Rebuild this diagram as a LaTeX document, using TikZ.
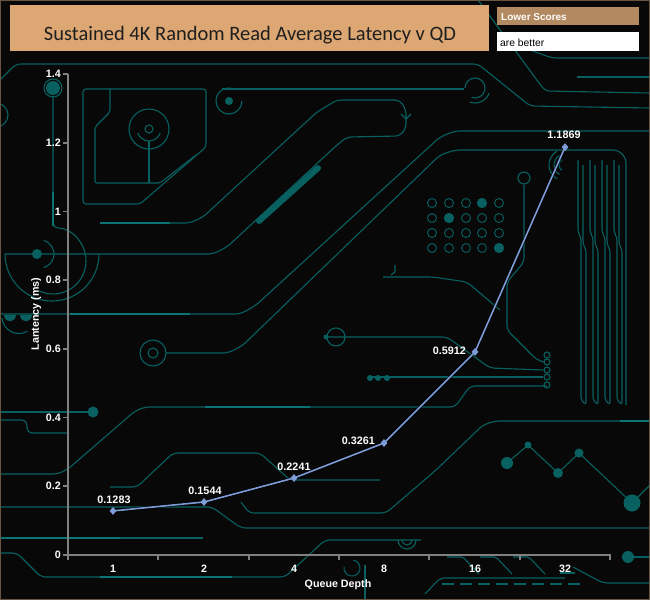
\documentclass[tikz,border=0pt]{standalone}
\usepackage{fontspec}
\setmainfont{Liberation Sans}
\newfontfamily\titlefont{Carlito}
\usetikzlibrary{shapes.geometric}
\definecolor{bgc}{RGB}{8,8,8}
\definecolor{trc}{RGB}{8,96,96}
\definecolor{trb}{RGB}{12,116,116}
\definecolor{titlec}{RGB}{220,167,114}
\definecolor{lowc}{RGB}{178,137,96}
\definecolor{axisc}{RGB}{128,128,128}
\definecolor{serc}{RGB}{125,155,215}
\definecolor{framec}{RGB}{105,85,65}
\begin{document}
\begin{tikzpicture}[x=1pt,y=-1pt,
  trace/.style={trc,line width=1.1pt,rounded corners=5pt},
  bright/.style={trb,line width=2.2pt},
  axisline/.style={axisc,line width=1.8pt},
  ticklab/.style={text=white,font=\bfseries\fontsize{10.7}{12}\selectfont,inner sep=0pt},
  datalab/.style={text=white,font=\bfseries\fontsize{10.8}{12}\selectfont,inner sep=0pt},
  datamark/.style={diamond,fill=serc,inner sep=0pt,minimum width=7pt,minimum height=8pt}]
\useasboundingbox (0,0) rectangle (650,600);
\fill[bgc] (0,0) rectangle (650,600);
% ---------- background circuit ----------
% top lines
\draw[trace] (0,80) -- (16,64) -- (478,64) -- (530,106) -- (650,108);
\draw[trace] (478,0) -- (545,91) -- (650,93);
\draw[trace] (530,50) -- (552,58) -- (650,58);
\draw[trace] (577,77) -- (650,77);
% box with target
\draw[trace,rounded corners=3pt] (83,89) -- (206,89) -- (206,147) -- (140,204) -- (83,204) -- cycle;
\draw[trace,rounded corners=2pt] (110,89) -- (110,112) -- (95,127) -- (95,183) -- (160,183) -- (196,155);
\draw[trace] (149,129) circle (20);
\draw[trace] (149,129) circle (4);
\draw[trace] (149,129) ++(20:12) arc[start angle=20,end angle=160,radius=12];
\draw[trace] (149,141) -- (149,183);
\fill[trc] (229,101) circle (4);
\draw[trace] (229,101) ++(0:13) arc[start angle=0,end angle=280,radius=13];
% line y=89 with spiral
\draw[trace] (222,89) -- (464,89);
\draw[trace] (475,88) ++(180:10) arc[start angle=180,end angle=470,radius=10];
\draw[trace] (475,88) ++(20:15) arc[start angle=20,end angle=110,radius=15];
% loop D1/D2
\draw[trace] (100,223) -- (190,223) -- (203,217) -- (317,112) -- (337,100) -- (400,100) -- (406,110) -- (406,128) -- (400,136) -- (347,137) -- (337,145) -- (227,247) -- (213,254) -- (5,254);
\draw[bright] (100,223) -- (170,223);
\draw[trace,rounded corners=0pt] (401,114) -- (406,119) -- (411,114);
% big semicircle and arcs at left
\draw[trace] (5,254) arc[start angle=180,end angle=0,radius=47];
\draw[trace] (53,96) -- (53,228) arc[start angle=-90,end angle=115,radius=33];
\draw[bright] (53,192) -- (53,226);
\fill[trc] (53,88) circle (7);
\draw[trace] (53,88) circle (9);
\fill[trc] (37,254) circle (5);
\draw[trace] (40,254) ++(-75:14) arc[start angle=-75,end angle=75,radius=14];
\draw[trace] (-4,115) circle (12);
% D3
\draw[trace] (0,314) -- (240,314) -- (255,306) -- (440,137) -- (455,131) -- (650,131);
\draw[bright] (70,314) -- (190,314);
\fill[trc] (4,315) arc[start angle=180,end angle=0,radius=6] -- cycle;
\fill[trc] (20,315) arc[start angle=180,end angle=0,radius=6] -- cycle;
\draw[trace] (2,318) arc[start angle=175,end angle=60,radius=17];
% D4
\draw[trace] (166,353) -- (228,353) -- (242,346) -- (440,155) -- (455,150) -- (618,150) -- (626,158) -- (626,405);
\draw[trace] (153,353) circle (13);
\draw[trace] (153,353) circle (5);
% thick bar
\draw[trc,line width=6pt,line cap=round] (259,221) -- (318,168);
% left lower lines
\draw[trace] (0,412) -- (88,412);
\fill[trc] (93,412) circle (5.5);
\draw[trace] (0,420) -- (27,420) -- (27,433) -- (67,433);
\draw[trace] (0,474) -- (58,474) -- (68,469) -- (135,411) -- (145,407) -- (455,407) -- (470,386) -- (547,386);
\draw[bright] (205,407) -- (310,407);
\draw[trace] (110,487) -- (137,487) -- (173,453) -- (260,453) -- (290,480) -- (380,480);
\draw[trace] (0,507) -- (212,507) -- (241,528) -- (650,528);
\draw[trace] (241,502) -- (249,513) -- (386,513) -- (436,470) -- (483,425) -- (495,421) -- (650,421);
\draw[bright] (620,421) -- (650,421);
\draw[trace] (0,538) -- (203,538);
\draw[trb,line width=2.6pt] (0,538) -- (120,538);
\draw[trace] (0,553) -- (17,553) -- (41,577) -- (285,577) -- (325,540) -- (421,540);
\draw[bright] (100,577) -- (232,577);
\draw[trace] (398,540) arc[start angle=180,end angle=0,radius=9];
\draw[trace] (402,540) arc[start angle=180,end angle=0,radius=5];
\draw[trace] (365,565) -- (365,600);
\draw[trace] (352,568) ++(-80:8) arc[start angle=-80,end angle=190,radius=8];
% lower right
\foreach \xx in {447,480,513}{\draw[trace,rounded corners=2pt] (\xx,557) -- (\xx+16,557) -- (\xx+32,574);}
\draw[trace,dash pattern=on 12pt off 6pt] (442,584) -- (581,584);
\draw[trace] (425,594) -- (440,578) -- (565,578);
\draw[trace] (560,573) -- (575,573);
\draw[trace] (573,567) -- (603,583) -- (650,583);
\fill[trc] (628,557) circle (6);
\draw[trace] (634,557) -- (650,557);
% zigzag
\draw[trace,rounded corners=0pt] (507,463) -- (528,445) -- (558,473) -- (579,453) -- (632,503) -- (650,485);
\fill[trc] (507,463) circle (6);
\fill[trc] (528,445) circle (3.5);
\fill[trc] (558,473) circle (5);
\fill[trc] (579,453) circle (4.5);
\fill[trc] (632,503) circle (8.5);
% right vertical traces
\foreach \xx in {578,590,602,614}{
  \draw[trace,rounded corners=3pt] (\xx,160) -- (\xx,232) -- (\xx+3,238) -- (\xx+3,400) -- (\xx+8,405) -- (\xx+8,250) -- (\xx+5,244) -- (\xx+5,165);}
% ring and vertical
\draw[trace] (524,178) circle (6);
\draw[trace] (524,185) -- (524,262) -- (507,282) -- (507,330) -- (537,360) -- (544,362);
\foreach \yy in {355,362,370,377,385}{\draw[trace] (547,\yy) circle (3);}
\draw[trace] (336,337) circle (9);
\fill[trc] (326,337) circle (2.5);
\draw[trace] (326,337) -- (447,337) -- (490,368) -- (543,370);
\draw[trace] (370,377) -- (543,377);
\foreach \xx in {370,378,387}{\fill[trc] (\xx,378) circle (3);}
\draw[trace] (383,277) -- (433,277) -- (467,282) -- (500,310);
\draw[trace,rounded corners=0pt] (395,265) -- (395,272) -- (391,275);
% dot grid
\foreach \xx in {432,449,466,482,499}{\foreach \yy in {203,218,233,248}{\draw[trc,line width=0.9pt] (\xx,\yy) circle (4.5);}}
\fill[trc] (482,203) circle (5);
\fill[trc] (449,218) circle (5);
\fill[trc] (499,248) circle (5);
% concentric arcs
\foreach \rr in {6,11,16}{\draw[trace] (565,165) ++(120:\rr) arc[start angle=120,end angle=240,radius=\rr];}
% frame
\draw[framec,line width=1pt] (0.5,0.5) rectangle (649.5,599.5);
% ---------- title and legend ----------
\fill[titlec] (10,5) rectangle (489,51);
\node[anchor=base,inner sep=0pt,text={rgb,255:red,30;green,30;blue,30},font=\titlefont\fontsize{20.5}{24}\selectfont] (title) at (250,40) {Sustained 4K Random Read Average Latency v QD};
\fill[lowc] (497,7) rectangle (639,25);
\node[anchor=base west,inner sep=0pt,text=white,font=\bfseries\fontsize{10}{12}\selectfont] (lower) at (501,20.5) {Lower Scores};
\fill[white] (497,32) rectangle (639,51);
\node[anchor=base west,inner sep=0pt,text=black,font=\fontsize{10.3}{12}\selectfont] (better) at (500,46) {are better};
% ---------- axes ----------
\draw[axisline] (68,74) -- (68,555) -- (610,555) -- (610,560);
\foreach \lab [count=\i from 0] in {0,0.2,0.4,0.6,0.8,1,1.2,1.4}{
  \pgfmathsetmacro{\yy}{555-\i*68.714}
  \draw[axisline] (63,\yy) -- (68,\yy);
  \node[ticklab,anchor=east] (yl\i) at (61,\yy) {\lab};}
\foreach \xx in {68,158.3,248.7,339,429.3,519.7}{\draw[axisline] (\xx,555) -- (\xx,560);}
\foreach \xx/\lab in {113/1,204/2,294/4,384/8,475/16,565/32}{
  \node[ticklab] (xl\lab) at (\xx,569) {\lab};}
\node[ticklab,rotate=90] (ytitle) at (36,314) {Lantency (ms)};
\node[ticklab] (xtitle) at (338,585) {Queue Depth};
% ---------- data ----------
\coordinate (p1) at (113,510.9);
\coordinate (p2) at (204,502.0);
\coordinate (p3) at (294,478.0);
\coordinate (p4) at (384,443.0);
\coordinate (p5) at (475,351.9);
\coordinate (p6) at (565,147.2);
\draw[black,line width=3pt,opacity=0.75,line join=round,shift={(2,3)}] (p1) -- (p2) -- (p3) -- (p4) -- (p5) -- (p6);
\draw[serc,line width=1.6pt,line join=round] (p1) -- (p2) -- (p3) -- (p4) -- (p5) -- (p6);
\foreach \p in {1,...,6}{\node[datamark] (m\p) at (p\p) {};}
\node[datalab] (l1) at (114,500) {0.1283};
\node[datalab] (l2) at (205,491) {0.1544};
\node[datalab] (l3) at (294,467) {0.2241};
\node[datalab,anchor=east] (l4) at (375,441) {0.3261};
\node[datalab,anchor=east] (l5) at (466,351) {0.5912};
\node[datalab] (l6) at (564,135) {1.1869};
\end{tikzpicture}
\end{document}
